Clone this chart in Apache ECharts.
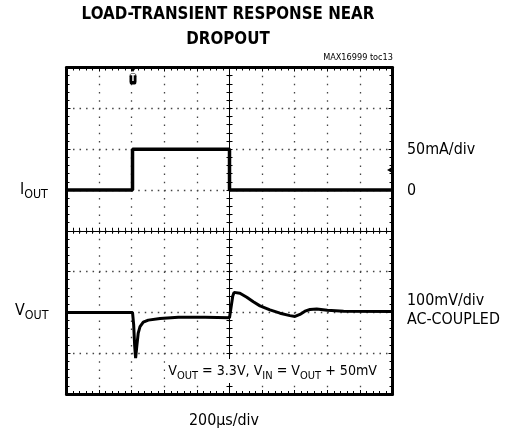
<!DOCTYPE html>
<html>
<head>
<meta charset="utf-8">
<script src="https://cdn.jsdelivr.net/npm/echarts@6/dist/echarts.min.js"></script>
<style>html,body{margin:0;padding:0;background:#fff}#c{width:513px;height:435px}</style>
</head>
<body>
<div id="c"></div>
<script>
// ---- data (read from the reference scope capture) ----
// time axis: 200 us/div, 10 divisions
const timeTicksUs = [0, 200, 400, 600, 800, 1000, 1200, 1400, 1600, 1800, 2000];
// I_OUT load step (mA), 50 mA/div, zero level at division 5 from bottom
const ioutTimeUs = [0, 405, 405, 1000, 1000, 2000];
const ioutMa     = [0, 0,   50,  50,   0,    0];
// V_OUT AC-coupled deviation (mV), 100 mV/div, zero level at division 2 from bottom
const voutTimeUs = [0, 200, 405, 412, 418, 424, 432, 440, 451, 471, 502, 574, 686, 850, 1000, 1010, 1020, 1028, 1064, 1106, 1146, 1187, 1248, 1310, 1371, 1402, 1432, 1463, 1494, 1535, 1600, 1700, 2000];
const voutMv     = [0, 0,   0,   -30, -80, -112, -80, -51, -35, -24, -19, -15, -12, -12, -13, -13, 40, 49, 47, 37, 26, 16, 6, -2, -8, -10, -5, 3, 7, 8, 5, 3, 2];

const IOUT_ZERO_DIV = 5, IOUT_MA_PER_DIV = 50;
const VOUT_ZERO_DIV = 2, VOUT_MV_PER_DIV = 100;

const ioutData = ioutTimeUs.map((t, i) => [t, IOUT_ZERO_DIV + ioutMa[i] / IOUT_MA_PER_DIV]);
const voutData = voutTimeUs.map((t, i) => [t, VOUT_ZERO_DIV + voutMv[i] / VOUT_MV_PER_DIV]);

// ---- font fitting (size text to the reference widths) ----
const FAM = '"DejaVu Sans Condensed", "Liberation Sans Narrow", "Arial Narrow", "Liberation Sans", Arial, sans-serif';
const mctx = document.createElement('canvas').getContext('2d');
function w1(text, weight) { mctx.font = (weight || 'normal') + ' 100px ' + FAM; return mctx.measureText(text).width / 100; }
function fit(text, width, weight, maxSize) { return Math.min(maxSize || 99, width / w1(text, weight)); }

const SUB_RATIO = 0.78;
const titleSize = fit('LOAD-TRANSIENT RESPONSE NEAR', 293, 'bold', 20);
const labSize = fit('AC-COUPLED', 93, 'normal', 17.5);
const annNormal = ['V', ' = 3.3V, V', ' = V', ' + 50mV'].join('');
const annSubs = ['OUT', 'IN', 'OUT'].join('');
const annSize = Math.min(labSize, 209 / (w1(annNormal) + SUB_RATIO * w1(annSubs)));

function richFor(size) {
  return {
    n: {fontFamily: FAM, fontSize: size, lineHeight: 22, verticalAlign: 'middle'},
    s: {fontFamily: FAM, fontSize: size * SUB_RATIO, lineHeight: 13, verticalAlign: 'bottom'}
  };
}

const chart = echarts.init(document.getElementById('c'), null, {renderer: 'canvas'});
const GW = 326, GH = 326.5;

function xAx(extra) {
  return Object.assign({
    type: 'value', min: 0, max: 2000, interval: 200,
    axisLabel: {show: false},
    axisLine: {show: true, onZero: false, lineStyle: {color: '#000', width: 3}},
    axisTick: {show: true, inside: true, length: 4, lineStyle: {color: '#000', width: 1}},
    minorTick: {show: true, splitNumber: 5, length: 3, lineStyle: {color: '#000', width: 1}},
    splitLine: {show: false}
  }, extra);
}
function yAx(extra) {
  return Object.assign({
    type: 'value', min: 0, max: 8, interval: 1,
    axisLabel: {show: false},
    axisLine: {show: true, onZero: false, lineStyle: {color: '#000', width: 3}},
    axisTick: {show: true, inside: true, length: 4, lineStyle: {color: '#000', width: 1}},
    minorTick: {show: true, splitNumber: 5, length: 3, lineStyle: {color: '#000', width: 1}},
    splitLine: {show: false}
  }, extra);
}
const thinLine = {show: true, onZero: false, lineStyle: {color: '#000', width: 1}};

const option = {
  animation: false,
  backgroundColor: '#fff',
  grid: {left: 66.5, top: 67.5, width: GW, height: GH, containLabel: false},
  xAxis: [
    xAx({position: 'bottom', splitLine: {show: true, lineStyle: {color: '#444', width: 1.3, type: [1.5, 6.66]}}}),
    xAx({position: 'top'}),
    xAx({position: 'bottom', offset: -GH / 2, axisLine: thinLine, axisTick: {show: true, inside: true, length: 3, lineStyle: {color: '#000'}}}),
    xAx({position: 'bottom', offset: -GH / 2, axisLine: thinLine, axisTick: {show: true, inside: false, length: 3, lineStyle: {color: '#000'}}})
  ],
  yAxis: [
    yAx({position: 'left', splitLine: {show: true, lineStyle: {color: '#444', width: 1.3, type: [1.5, 5.02]}}}),
    yAx({position: 'right'}),
    yAx({position: 'left', offset: -GW / 2, axisLine: thinLine, axisTick: {show: true, inside: true, length: 3, lineStyle: {color: '#000'}}}),
    yAx({position: 'left', offset: -GW / 2, axisLine: thinLine, axisTick: {show: true, inside: false, length: 3, lineStyle: {color: '#000'}}})
  ],
  series: [
    {
      name: 'IOUT', type: 'line', data: ioutData, showSymbol: false, symbol: 'none',
      lineStyle: {color: '#000', width: 3.5}, z: 5,
      markPoint: {
        silent: true,
        data: [
          {coord: [408, 7.72], symbol: 'roundRect', symbolSize: [7, 11], itemStyle: {color: '#000'},
           label: {show: true, formatter: 'T', color: '#fff', fontSize: 8, fontWeight: 'bold', fontFamily: FAM}},
          {coord: [408, 7.95], symbol: 'triangle', symbolSize: [7, 5], symbolRotate: 180, itemStyle: {color: '#000'}, label: {show: false}},
          {coord: [1982, 5.49], symbol: 'triangle', symbolSize: [6, 5], symbolRotate: 90, itemStyle: {color: '#000'}, label: {show: false}}
        ]
      }
    },
    {
      name: 'VOUT', type: 'line', data: voutData, showSymbol: false, symbol: 'none',
      lineStyle: {color: '#000', width: 3}, z: 5
    }
  ],
  graphic: [
    {type: 'text', x: 228, y: 14.5, style: {text: 'LOAD-TRANSIENT RESPONSE NEAR', font: 'bold ' + titleSize + 'px ' + FAM, textAlign: 'center', textVerticalAlign: 'middle', fill: '#000'}},
    {type: 'text', x: 228, y: 39.5, style: {text: 'DROPOUT', font: 'bold ' + titleSize + 'px ' + FAM, textAlign: 'center', textVerticalAlign: 'middle', fill: '#000'}},
    {type: 'text', x: 393, y: 58, style: {text: 'MAX16999 toc13', font: fit('MAX16999 toc13', 70, 'normal', 10.5) + 'px ' + FAM, textAlign: 'right', textVerticalAlign: 'middle', fill: '#000'}},
    {type: 'text', x: 20, y: 190, style: {text: '{n|I}{s|OUT}', textVerticalAlign: 'middle', fill: '#000', rich: richFor(labSize)}},
    {type: 'text', x: 15, y: 311, style: {text: '{n|V}{s|OUT}', textVerticalAlign: 'middle', fill: '#000', rich: richFor(labSize)}},
    {type: 'text', x: 407, y: 150, style: {text: '50mA/div', font: labSize + 'px ' + FAM, textVerticalAlign: 'middle', fill: '#000'}},
    {type: 'text', x: 407, y: 191, style: {text: '0', font: labSize + 'px ' + FAM, textVerticalAlign: 'middle', fill: '#000'}},
    {type: 'text', x: 407, y: 301, style: {text: '100mV/div', font: labSize + 'px ' + FAM, textVerticalAlign: 'middle', fill: '#000'}},
    {type: 'text', x: 407, y: 320, style: {text: 'AC-COUPLED', font: labSize + 'px ' + FAM, textVerticalAlign: 'middle', fill: '#000'}},
    {type: 'text', x: 380, y: 371, z: 10, style: {text: '{n|V}{s|OUT}{n| = 3.3V, V}{s|IN}{n| = V}{s|OUT}{n| + 50mV}', textAlign: 'right', textVerticalAlign: 'middle', fill: '#000',
      backgroundColor: '#fff', padding: [1, 3, 1, 3], rich: richFor(annSize)}},
    {type: 'text', x: 224, y: 421, style: {text: '200\u00B5s/div', font: labSize + 'px ' + FAM, textAlign: 'center', textVerticalAlign: 'middle', fill: '#000'}}
  ]
};
chart.setOption(option);
</script>
</body>
</html>
